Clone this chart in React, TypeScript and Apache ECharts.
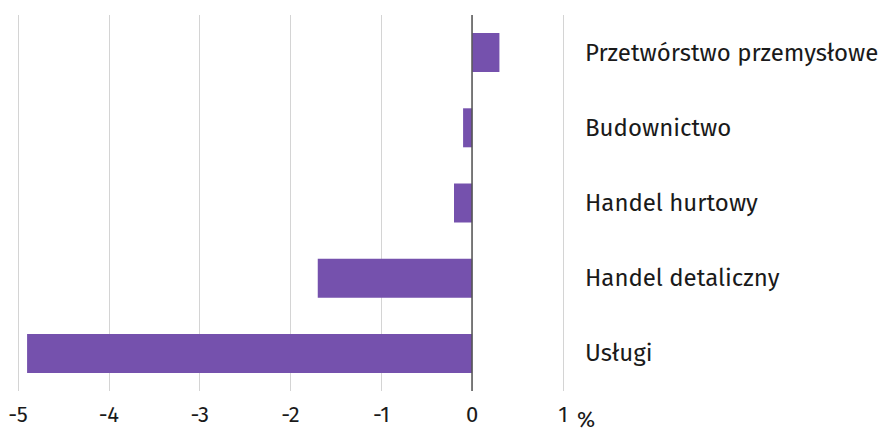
import React, { useEffect, useRef } from "react";
import * as echarts from "echarts";

const categories = [
  "Przetwórstwo przemysłowe",
  "Budownictwo",
  "Handel hurtowy",
  "Handel detaliczny",
  "Usługi",
];
const values = [0.3, -0.1, -0.2, -1.7, -4.9];
const xMin = -5;
const xMax = 1;
const unitLabel = "%";

export default function App() {
  const ref = useRef<HTMLDivElement>(null);
  useEffect(() => {
    if (!ref.current) return;
    const chart = echarts.init(ref.current, null, { renderer: "svg" });
    const font = "'Fira Sans', 'Open Sans', 'Noto Sans', sans-serif";
    chart.setOption({
      animation: false,
      textStyle: { fontFamily: font },
      grid: { left: 18, right: 320, top: 15, bottom: 42, containLabel: false },
      xAxis: {
        type: "value",
        min: xMin,
        max: xMax,
        interval: 1,
        axisLine: { show: false },
        axisTick: { show: false },
        splitLine: { show: true, lineStyle: { color: "#d4d4d4", width: 1 } },
        axisLabel: { fontSize: 22, color: "#1a1a1a", margin: 12, fontFamily: font },
      },
      yAxis: {
        type: "category",
        data: categories,
        inverse: true,
        position: "right",
        axisLine: { show: false },
        axisTick: { show: false },
        splitLine: { show: false },
        axisLabel: {
          fontSize: 24,
          color: "#1a1a1a",
          align: "left",
          margin: 22,
          fontFamily: font,
        },
      },
      series: [
        {
          type: "bar",
          data: values,
          barWidth: 39,
          itemStyle: { color: "#7551ad" },
          markLine: {
            silent: true,
            symbol: "none",
            label: { show: false },
            lineStyle: { color: "#555555", width: 1.5, type: "solid" },
            data: [{ xAxis: 0 }],
          },
        },
      ],
      graphic: [
        {
          type: "text",
          left: 577,
          top: 408,
          style: { text: unitLabel, fontSize: 22, fill: "#1a1a1a", fontFamily: font },
        },
      ],
    });
    return () => chart.dispose();
  }, []);
  return (
    <div
      ref={ref}
      style={{ position: "absolute", left: 0, top: 0, width: 883, height: 433 }}
    />
  );
}
